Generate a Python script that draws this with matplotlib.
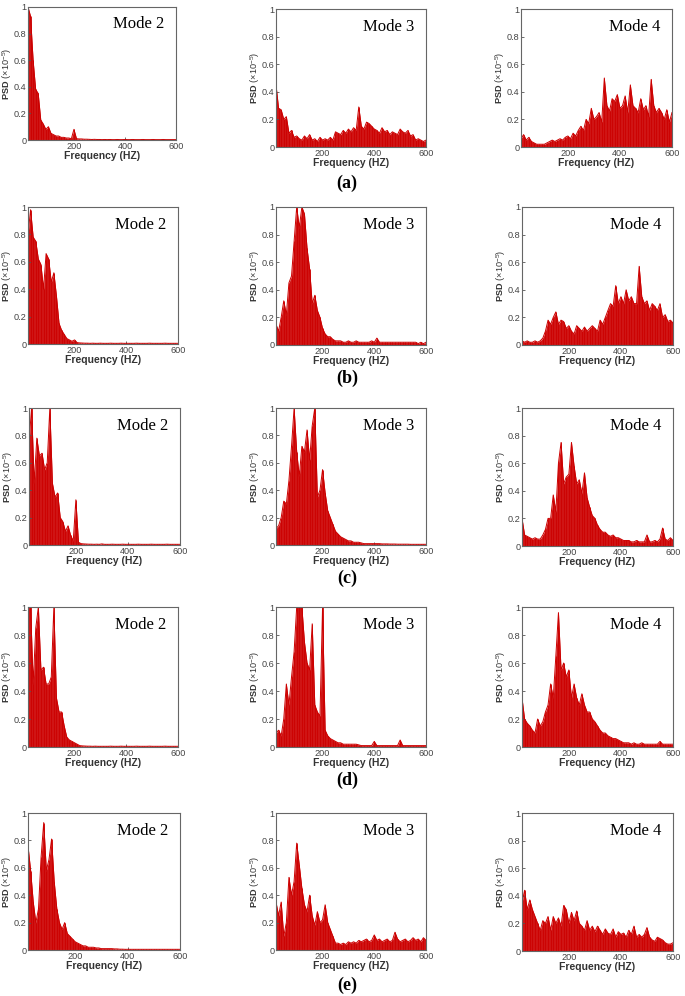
import numpy as np
import matplotlib
matplotlib.use("Agg")
import matplotlib.pyplot as plt

plt.rcParams['font.family'] = ['Liberation Sans', 'DejaVu Sans']
plt.rcParams['mathtext.fontset'] = 'custom'
plt.rcParams['mathtext.rm'] = 'Liberation Sans'
plt.rcParams['mathtext.bf'] = 'Liberation Sans:bold'

# frequency grid (Hz), 10 Hz steps from 20 to 600
freq = np.arange(20, 601, 10)

# PSD (x1e-5), rows (a)-(e), columns Mode 2/3/4
a_mode2 = [1.00, 0.93, 0.60, 0.38, 0.35, 0.15, 0.12, 0.08, 0.10, 0.05,
           0.04, 0.03, 0.03, 0.02, 0.02, 0.015, 0.015, 0.01, 0.08, 0.01,
           0.008, 0.008, 0.006, 0.006, 0.005, 0.004, 0.005, 0.004, 0.004, 0.003,
           0.004, 0.003, 0.004, 0.003, 0.003, 0.004, 0.003, 0.003, 0.004, 0.003,
           0.003, 0.004, 0.003, 0.003, 0.003, 0.004, 0.003, 0.003, 0.003, 0.004,
           0.003, 0.003, 0.003, 0.004, 0.003, 0.003, 0.003, 0.003, 0.003]
a_mode3 = [0.45, 0.28, 0.27, 0.20, 0.22, 0.10, 0.12, 0.07, 0.08, 0.06,
           0.05, 0.08, 0.06, 0.09, 0.05, 0.06, 0.04, 0.07, 0.05, 0.06,
           0.05, 0.07, 0.05, 0.11, 0.10, 0.09, 0.12, 0.10, 0.13, 0.11,
           0.14, 0.12, 0.29, 0.15, 0.13, 0.18, 0.17, 0.15, 0.13, 0.12,
           0.10, 0.14, 0.11, 0.12, 0.09, 0.11, 0.10, 0.09, 0.13, 0.11,
           0.10, 0.12, 0.08, 0.09, 0.05, 0.06, 0.05, 0.04, 0.05]
a_mode4 = [0.06, 0.09, 0.05, 0.07, 0.04, 0.03, 0.02, 0.02, 0.02, 0.02,
           0.03, 0.04, 0.05, 0.04, 0.05, 0.06, 0.05, 0.07, 0.08, 0.06,
           0.10, 0.08, 0.12, 0.15, 0.12, 0.20, 0.17, 0.28, 0.20, 0.22,
           0.25, 0.18, 0.50, 0.30, 0.26, 0.35, 0.33, 0.38, 0.28, 0.30,
           0.37, 0.25, 0.45, 0.30, 0.28, 0.25, 0.35, 0.27, 0.30, 0.22,
           0.49, 0.30, 0.25, 0.28, 0.25, 0.20, 0.27, 0.18, 0.25]

b_mode2 = [0.80, 0.98, 0.78, 0.75, 0.62, 0.58, 0.40, 0.66, 0.62, 0.45,
           0.52, 0.35, 0.15, 0.10, 0.07, 0.04, 0.03, 0.02, 0.03, 0.01,
           0.008, 0.007, 0.006, 0.006, 0.005, 0.006, 0.005, 0.005, 0.006, 0.005,
           0.005, 0.005, 0.006, 0.005, 0.005, 0.005, 0.006, 0.005, 0.005, 0.005,
           0.005, 0.005, 0.006, 0.005, 0.005, 0.005, 0.005, 0.006, 0.005, 0.005,
           0.005, 0.005, 0.005, 0.006, 0.005, 0.005, 0.005, 0.005, 0.005]
b_mode3 = [0.15, 0.10, 0.20, 0.32, 0.22, 0.45, 0.50, 0.75, 1.00, 0.85,
           1.00, 0.95, 0.70, 0.55, 0.30, 0.36, 0.25, 0.20, 0.12, 0.08,
           0.06, 0.06, 0.04, 0.03, 0.03, 0.03, 0.02, 0.02, 0.03, 0.02,
           0.02, 0.03, 0.02, 0.02, 0.02, 0.02, 0.02, 0.03, 0.02, 0.05,
           0.02, 0.02, 0.02, 0.02, 0.02, 0.02, 0.02, 0.02, 0.02, 0.02,
           0.02, 0.02, 0.02, 0.02, 0.02, 0.01, 0.02, 0.01, 0.02]
b_mode4 = [0.03, 0.02, 0.03, 0.02, 0.02, 0.03, 0.02, 0.03, 0.05, 0.10,
           0.18, 0.15, 0.20, 0.24, 0.15, 0.18, 0.17, 0.12, 0.14, 0.10,
           0.08, 0.14, 0.12, 0.10, 0.13, 0.10, 0.12, 0.14, 0.12, 0.10,
           0.18, 0.15, 0.20, 0.25, 0.30, 0.28, 0.43, 0.30, 0.35, 0.30,
           0.40, 0.32, 0.35, 0.30, 0.30, 0.57, 0.35, 0.30, 0.32, 0.25,
           0.30, 0.28, 0.25, 0.30, 0.20, 0.22, 0.17, 0.18, 0.16]

c_mode2 = [0.75, 1.00, 0.45, 0.78, 0.65, 0.67, 0.55, 0.60, 1.00, 0.45,
           0.35, 0.38, 0.20, 0.17, 0.10, 0.14, 0.07, 0.03, 0.33, 0.02,
           0.01, 0.008, 0.007, 0.006, 0.006, 0.005, 0.006, 0.005, 0.008, 0.005,
           0.005, 0.005, 0.006, 0.005, 0.005, 0.005, 0.006, 0.005, 0.005, 0.005,
           0.005, 0.005, 0.006, 0.005, 0.005, 0.005, 0.005, 0.006, 0.005, 0.005,
           0.005, 0.005, 0.005, 0.006, 0.005, 0.005, 0.005, 0.005, 0.005]
c_mode3 = [0.12, 0.14, 0.20, 0.32, 0.30, 0.47, 0.72, 1.00, 0.68, 0.50,
           0.72, 0.68, 0.84, 0.62, 0.87, 1.00, 0.35, 0.40, 0.55, 0.38,
           0.25, 0.20, 0.15, 0.10, 0.08, 0.06, 0.05, 0.04, 0.03, 0.03,
           0.02, 0.02, 0.02, 0.015, 0.01, 0.01, 0.01, 0.01, 0.01, 0.01,
           0.01, 0.008, 0.008, 0.008, 0.007, 0.007, 0.007, 0.006, 0.006, 0.006,
           0.006, 0.006, 0.005, 0.005, 0.005, 0.005, 0.005, 0.005, 0.005]
c_mode4 = [0.20, 0.08, 0.07, 0.06, 0.05, 0.06, 0.05, 0.05, 0.08, 0.12,
           0.20, 0.20, 0.37, 0.25, 0.60, 0.75, 0.45, 0.50, 0.52, 0.75,
           0.58, 0.45, 0.48, 0.38, 0.53, 0.35, 0.28, 0.22, 0.20, 0.15,
           0.12, 0.10, 0.10, 0.08, 0.07, 0.08, 0.06, 0.06, 0.05, 0.04,
           0.04, 0.04, 0.03, 0.03, 0.04, 0.03, 0.03, 0.03, 0.08, 0.03,
           0.03, 0.04, 0.03, 0.05, 0.13, 0.05, 0.04, 0.06, 0.04]

d_mode2 = [1.00, 1.00, 0.45, 0.85, 1.00, 0.55, 0.57, 0.45, 0.45, 0.50,
           1.00, 0.35, 0.25, 0.25, 0.15, 0.07, 0.05, 0.04, 0.03, 0.02,
           0.01, 0.008, 0.007, 0.006, 0.006, 0.005, 0.006, 0.005, 0.005, 0.005,
           0.005, 0.005, 0.006, 0.005, 0.005, 0.005, 0.006, 0.005, 0.005, 0.005,
           0.005, 0.005, 0.006, 0.005, 0.005, 0.005, 0.005, 0.006, 0.005, 0.005,
           0.005, 0.005, 0.005, 0.006, 0.005, 0.005, 0.005, 0.005, 0.005]
d_mode3 = [0.10, 0.12, 0.08, 0.20, 0.45, 0.30, 0.50, 0.68, 1.00, 1.00,
           1.00, 0.75, 0.60, 0.55, 0.88, 0.30, 0.25, 0.22, 1.00, 0.12,
           0.08, 0.06, 0.05, 0.04, 0.03, 0.03, 0.02, 0.02, 0.02, 0.02,
           0.02, 0.02, 0.015, 0.01, 0.01, 0.01, 0.01, 0.01, 0.04, 0.01,
           0.01, 0.01, 0.01, 0.01, 0.01, 0.01, 0.01, 0.01, 0.05, 0.01,
           0.01, 0.01, 0.01, 0.01, 0.01, 0.01, 0.01, 0.01, 0.01]
d_mode4 = [0.35, 0.20, 0.17, 0.15, 0.12, 0.10, 0.20, 0.15, 0.18, 0.25,
           0.30, 0.45, 0.35, 0.65, 0.96, 0.55, 0.60, 0.50, 0.55, 0.35,
           0.45, 0.35, 0.30, 0.38, 0.30, 0.25, 0.25, 0.20, 0.18, 0.15,
           0.12, 0.10, 0.10, 0.08, 0.07, 0.06, 0.06, 0.05, 0.04, 0.03,
           0.03, 0.03, 0.02, 0.03, 0.02, 0.02, 0.03, 0.02, 0.02, 0.02,
           0.02, 0.02, 0.02, 0.04, 0.02, 0.02, 0.02, 0.02, 0.02]

e_mode2 = [0.76, 0.58, 0.35, 0.20, 0.30, 0.68, 0.93, 0.58, 0.66, 0.81,
           0.50, 0.30, 0.20, 0.15, 0.20, 0.12, 0.10, 0.08, 0.06, 0.05,
           0.04, 0.03, 0.03, 0.02, 0.02, 0.02, 0.015, 0.015, 0.01, 0.01,
           0.01, 0.01, 0.01, 0.008, 0.008, 0.006, 0.006, 0.005, 0.005, 0.005,
           0.005, 0.005, 0.005, 0.005, 0.005, 0.005, 0.005, 0.005, 0.005, 0.005,
           0.005, 0.005, 0.005, 0.005, 0.005, 0.005, 0.005, 0.005, 0.005]
e_mode3 = [0.35, 0.25, 0.35, 0.10, 0.20, 0.53, 0.40, 0.50, 0.78, 0.62,
           0.45, 0.33, 0.28, 0.40, 0.25, 0.18, 0.28, 0.20, 0.22, 0.33,
           0.20, 0.15, 0.10, 0.05, 0.05, 0.04, 0.05, 0.04, 0.06, 0.05,
           0.06, 0.05, 0.07, 0.06, 0.07, 0.08, 0.06, 0.07, 0.11, 0.07,
           0.08, 0.06, 0.07, 0.08, 0.06, 0.07, 0.13, 0.08, 0.06, 0.07,
           0.08, 0.06, 0.07, 0.09, 0.07, 0.08, 0.06, 0.09, 0.07]
e_mode4 = [0.35, 0.44, 0.30, 0.37, 0.30, 0.25, 0.20, 0.15, 0.22, 0.20,
           0.25, 0.15, 0.25, 0.20, 0.24, 0.18, 0.33, 0.30, 0.20, 0.28,
           0.22, 0.29, 0.20, 0.18, 0.15, 0.22, 0.15, 0.18, 0.14, 0.18,
           0.15, 0.12, 0.16, 0.13, 0.12, 0.16, 0.10, 0.14, 0.12, 0.13,
           0.10, 0.15, 0.12, 0.18, 0.10, 0.12, 0.10, 0.12, 0.17, 0.10,
           0.08, 0.07, 0.10, 0.09, 0.08, 0.06, 0.05, 0.05, 0.06]

rows = [
    [a_mode2, a_mode3, a_mode4],
    [b_mode2, b_mode3, b_mode4],
    [c_mode2, c_mode3, c_mode4],
    [d_mode2, d_mode3, d_mode4],
    [e_mode2, e_mode3, e_mode4],
]
modes = ["Mode 2", "Mode 3", "Mode 4"]
row_labels = ["(a)", "(b)", "(c)", "(d)", "(e)"]

# panel boxes in pixels: left, top, right, bottom
boxes = [
    [(28, 7, 176, 140), (276, 9, 426, 147), (521, 9, 672, 147)],
    [(28, 207, 178, 344), (276, 207, 426, 345), (522, 207, 673, 345)],
    [(29, 408, 180, 545), (276, 408, 426, 545), (522, 408, 673, 546)],
    [(28, 607, 178, 747), (276, 607, 426, 747), (522, 607, 673, 747)],
    [(28, 813, 180, 950), (276, 813, 426, 950), (522, 813, 673, 951)],
]
label_y = [183, 378, 578, 780, 985]

W, H = 685, 996
fig = plt.figure(figsize=(W / 100, H / 100), dpi=100)

red = '#cc0000'
for r in range(5):
    for c in range(3):
        l, t, rr, b = boxes[r][c]
        ax = fig.add_axes([l / W, 1 - b / H, (rr - l) / W, (b - t) / H])
        psd = rows[r][c]
        ax.fill_between(freq, 0, psd, color=red, lw=0, alpha=0.92)
        ax.plot(freq, psd, color=red, lw=0.7)
        ax.vlines(freq, 0, psd, color=red, lw=0.6)
        ax.set_xlim(20, 600)
        ax.set_ylim(0, 1)
        ax.set_xticks([200, 400, 600])
        ax.set_yticks([0, 0.2, 0.4, 0.6, 0.8, 1])
        ax.set_yticklabels(["0", "0.2", "0.4", "0.6", "0.8", "1"])
        ax.tick_params(direction='in', length=2.5, width=0.6, labelsize=6.6,
                       colors='#555555', labelcolor='#444444', pad=1.2)
        for s in ax.spines.values():
            s.set_color('#666666')
            s.set_linewidth(0.8)
        ax.set_xlabel("Frequency (HZ)", fontsize=7.5, fontweight='bold',
                      color='#333333', labelpad=0)
        ax.set_ylabel(r"$\mathbf{PSD}\ (\times10^{-5})$", fontsize=6.6,
                      color='#333333')
        ax.yaxis.set_label_coords(-14 / (rr - l), 0.5)
        ax.text(0.92, 0.87, modes[c], transform=ax.transAxes, ha='right',
                va='center', fontsize=12, family='Liberation Serif')
    fig.text(347 / W, 1 - label_y[r] / H, row_labels[r], ha='center',
             va='center', fontsize=13, fontweight='bold',
             family='Liberation Serif')

fig.savefig("out.png", dpi=100)
